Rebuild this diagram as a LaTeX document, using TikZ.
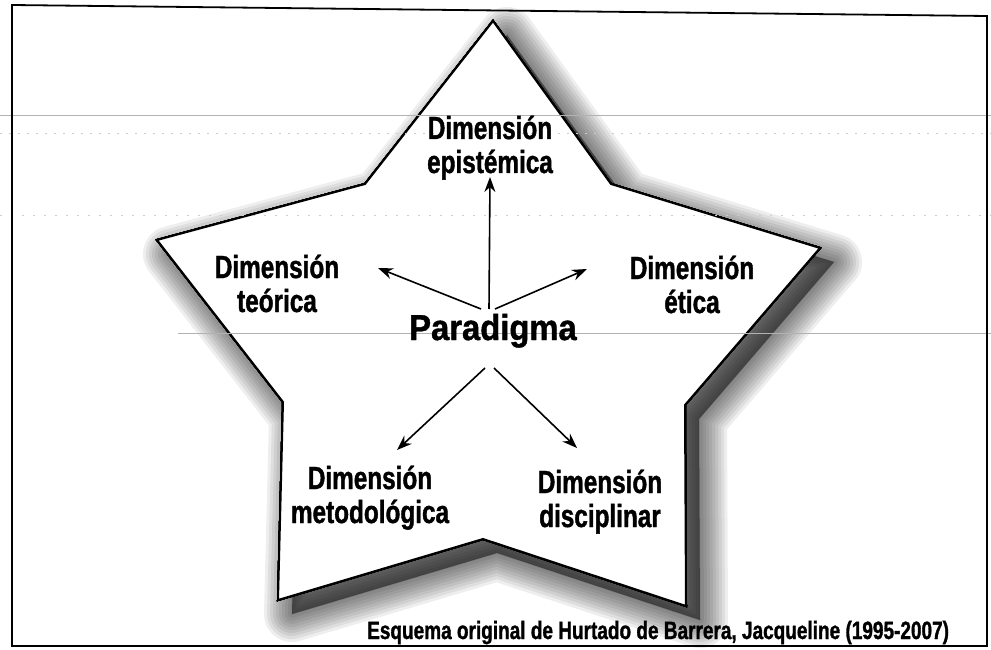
\documentclass[tikz,border=0pt]{standalone}
\usepackage{fontspec}
\setmainfont{Liberation Sans}
\newfontfamily\labelfont{Liberation Sans}[FakeStretch=0.76,FakeBold=1.2]
\newfontfamily\titlefont{Liberation Sans}[FakeStretch=0.91,FakeBold=1.2]
\usetikzlibrary{arrows.meta,positioning}
\tikzset{
  dimlabel/.style={font=\labelfont\bfseries\fontsize{32}{34}\selectfont,
                   align=center, anchor=base, inner sep=0pt},
  arr/.style={line width=1.6pt, -{Stealth[length=15pt,width=11pt]}},
  scanline/.style={gray!60, line width=0.8pt}
}
\newcommand{\starshape}[1]{%
  \draw[#1] (493,21) -- (365,184) -- (157,240) -- (283,402) -- (278,600)
     -- (483,539) -- (686,606) -- (685,405) -- (820,248) -- (611,184) -- cycle;}

\begin{document}
\begin{tikzpicture}[x=1pt,y=-1pt]
                \useasboundingbox (0,0) rectangle (991,650);
                % shadow of the star
                \foreach \w in {56,50,...,2}
                    \starshape{black, opacity=0.065, line width=\w pt, line join=round, fill, shift={(14,14)}}
                \starshape{fill=white, line width=2pt}
                % lines of the scanned sheet
                \draw[scanline] (0,115) -- (991,115);
                \draw[scanline] (178,333) -- (991,333);
                \draw[gray!40, dash pattern=on 2pt off 7pt] (0,133) -- (991,133);
                \draw[gray!40, dash pattern=on 2pt off 9pt] (0,215) -- (991,215);
                % labels
                \node[font=\titlefont\bfseries\fontsize{36}{40}\selectfont, anchor=base, inner sep=0pt] (par) at (493,340) {Paradigma};
                \node[dimlabel] (epis) at (490,173) {Dimensión\\epistémica};
                \node[dimlabel] (teor) at (277,312) {Dimensión\\teórica};
                \node[dimlabel] (etic) at (692,313) {Dimensión\\ética};
                \node[dimlabel] (metod) at (370,523) {Dimensión\\metodológica};
                \node[dimlabel] (disc) at (600,527) {Dimensión\\disciplinar};
                \node[font=\labelfont\bfseries\fontsize{25}{28}\selectfont, anchor=base west, inner sep=0pt] (cap) at (367,639) {Esquema original de Hurtado de Barrera, Jacqueline (1995-2007)};
                % arrows
                \coordinate (up) at (489,309);
                \coordinate (down) at (490,368);
                \coordinate (tepis) at (490,177);
                \coordinate (tteor) at (378,268);
                \coordinate (tetic) at (587,269);
                \coordinate (tmetod) at (397,450);
                \coordinate (tdisc) at (577,448);
                \draw[arr] (up) -- (tepis);
                \draw[arr] ([xshift=-8pt]up) -- (tteor);
                \draw[arr] ([xshift=6pt]up) -- (tetic);
                \draw[arr] ([xshift=-5pt]down) -- (tmetod);
                \draw[arr] ([xshift=4pt]down) -- (tdisc);
                % frame
                \draw[line width=1.8pt] (12,5) -- (987,16) -- (987,646) -- (12,646) -- cycle;
\end{tikzpicture}
\end{document}
